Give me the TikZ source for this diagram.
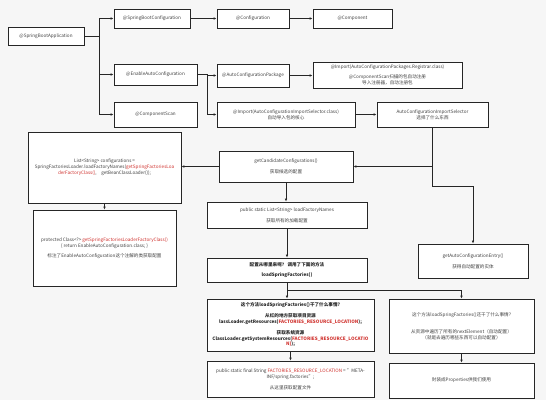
\documentclass[tikz,border=0pt]{standalone}
\usepackage{fontspec}
\setmainfont{Noto Sans CJK SC}
\usetikzlibrary{arrows.meta}
\definecolor{bgcol}{HTML}{F6F6F6}
\definecolor{redcol}{HTML}{D0312D}
\newcommand{\redtxt}[1]{\textcolor{redcol}{#1}}
\tikzset{
    box/.style={draw=black!85, fill=white, line width=0.8pt, align=center,
        inner sep=1pt, text=black!75, font=\fontsize{4.6}{5.8}\selectfont},
    boldbox/.style={box, font=\fontsize{4.6}{5.8}\selectfont\bfseries, text=black!85},
    arr/.style={draw=black!85, line width=0.8pt, -{Latex[length=3pt,width=2.6pt]}}
}
\begin{document}
\begin{tikzpicture}[x=1pt,y=-1pt]
        \useasboundingbox [fill=bgcol] (0,0) rectangle (546,400);
        % annotations row
        \node [box, minimum width=76pt, minimum height=18pt] (app) at (46,36) {@SpringBootApplication};
        \node [box, minimum width=76pt, minimum height=19pt] (sbc) at (152,18.5) {@SpringBootConfiguration};
        \node [box, minimum width=72pt, minimum height=19pt] (conf) at (253,18.5) {@Configuration};
        \node [box, minimum width=79pt, minimum height=19pt] (comp) at (352.5,18.5) {@Component};
        \node [box, minimum width=83pt, minimum height=21pt] (eac) at (155.5,74.5) {@EnableAutoConfiguration};
        \node [box, minimum width=72pt, minimum height=23pt] (acp) at (253,75.5) {@AutoConfigurationPackage};
        \node [box, minimum width=149pt, minimum height=26pt] (reg) at (387.5,75) {@Import(AutoConfigurationPackages.Registrar.class)\\[4pt]
            @ComponentScan扫描的包自动注册\\导入注册器，自动注册包};
        \node [box, minimum width=83pt, minimum height=25pt] (cs) at (155.5,114.5) {@ComponentScan};
        \node [box, minimum width=138pt, minimum height=25pt] (ais) at (286,114.5) {@Import(AutoConfigurationImportSelector.class)\\自动导入包的核心};
        \node [box, minimum width=111pt, minimum height=25pt] (aiss) at (432.5,114.5) {AutoConfigurationImportSelector\\选择了什么东西};
        % left column
        \node [box, minimum width=153pt, minimum height=71pt] (list) at (104.5,167.5) {List<String> configurations =\\
            SpringFactoriesLoader.loadFactoryNames(\redtxt{getSpringFactoriesLoa}\\
            \redtxt{derFactoryClass()},\quad getBeanClassLoader());};
        \node [box, minimum width=143pt, minimum height=76pt] (prot) at (104.5,248) {protected Class<?> \redtxt{getSpringFactoriesLoaderFactoryClass()}\\
            \{ return EnableAutoConfiguration.class; \}\\[4pt]
            标注了EnableAutoConfiguration这个注解的类获取配置};
        % middle column
        \node [box, minimum width=134pt, minimum height=31pt] (gcc) at (286,166.5) {getCandidateConfigurations()\\[5pt]获取候选的配置};
        \node [box, minimum width=160pt, minimum height=26pt] (lfn) at (287,215) {public static List<String> loadFactoryNames\\[5pt]获取所有的加载配置};
        \node [boldbox, minimum width=160pt, minimum height=24pt] (from) at (287,270) {配置从哪里来呢？ 调用了下面的方法\\[5pt]loadSpringFactories()};
        \node [boldbox, minimum width=167pt, minimum height=52pt] (lsf) at (290.5,325) {这个方法loadSpringFactories()干了什么事情?\\[5pt]
            从红的地方获取项目资源\\
            lassLoader.getResources(\redtxt{FACTORIES\_RESOURCE\_LOCATION});\\[5pt]
            获取系统资源\\
            ClassLoader.getSystemResources(\redtxt{FACTORIES\_RESOURCE\_LOCATIO}\\
            \redtxt{N)});};
        \node [box, minimum width=167pt, minimum height=36pt] (loc) at (290.5,379) {public static final String \redtxt{FACTORIES\_RESOURCE\_LOCATION} = "META-\\
            INF/spring.factories";\\[5pt]
            从这里获取配置文件};
        % right column
        \node [box, minimum width=110pt, minimum height=34pt] (ace) at (473,261) {getAutoConfigurationEntry()\\[5pt]获得自动配置的实体};
        \node [box, minimum width=145pt, minimum height=54pt] (lsf2) at (461.5,326) {这个方法loadSpringFactories()还干了什么事情?\\[11pt]
            从资源中遍历了所有的nextElement（自动配置）\\
            （就是去遍历哪些东西可以自动配置）};
        \node [box, minimum width=145pt, minimum height=35pt] (prop) at (461.5,380.5) {封装成Properties供我们使用};
        % connectors
        \draw [arr] (app.east) -- ++(15,0) |- (sbc.west);
        \draw [arr] (app.east) -- ++(15,0) |- (eac.west);
        \draw [arr] (app.east) -- ++(15,0) |- (cs.west);
        \draw [arr] (sbc) -- (conf);
        \draw [arr] (conf) -- (comp);
        \draw [arr] (eac.east) -- ++(10,0) |- (acp.west);
        \draw [arr] (eac.east) -- ++(10,0) |- (ais.west);
        \draw [arr] (acp.east) -- (acp.east -| reg.west);
        \draw [arr] (ais) -- (aiss);
        \draw [arr] (aiss.south) |- (gcc.east);
        \draw [arr] (aiss.south) -- ++(0,59) -| (ace.north);
        \draw [arr] (gcc.west) -- (gcc.west -| list.east);
        \draw [arr] (list) -- (prot);
        \draw [arr] (gcc.south) -- (gcc.south |- lfn.north);
        \draw [arr] (lfn) -- (from);
        \draw [arr] (from.south) -- (from.south |- lsf.north);
        \draw [arr] (from.south) -- ++(0,8) -| (lsf2.north);
        \draw [arr] (lsf.south) -- (lsf.south |- loc.north);
        \draw [arr] (lsf2) -- (prop);
    \end{tikzpicture}
\end{document}
